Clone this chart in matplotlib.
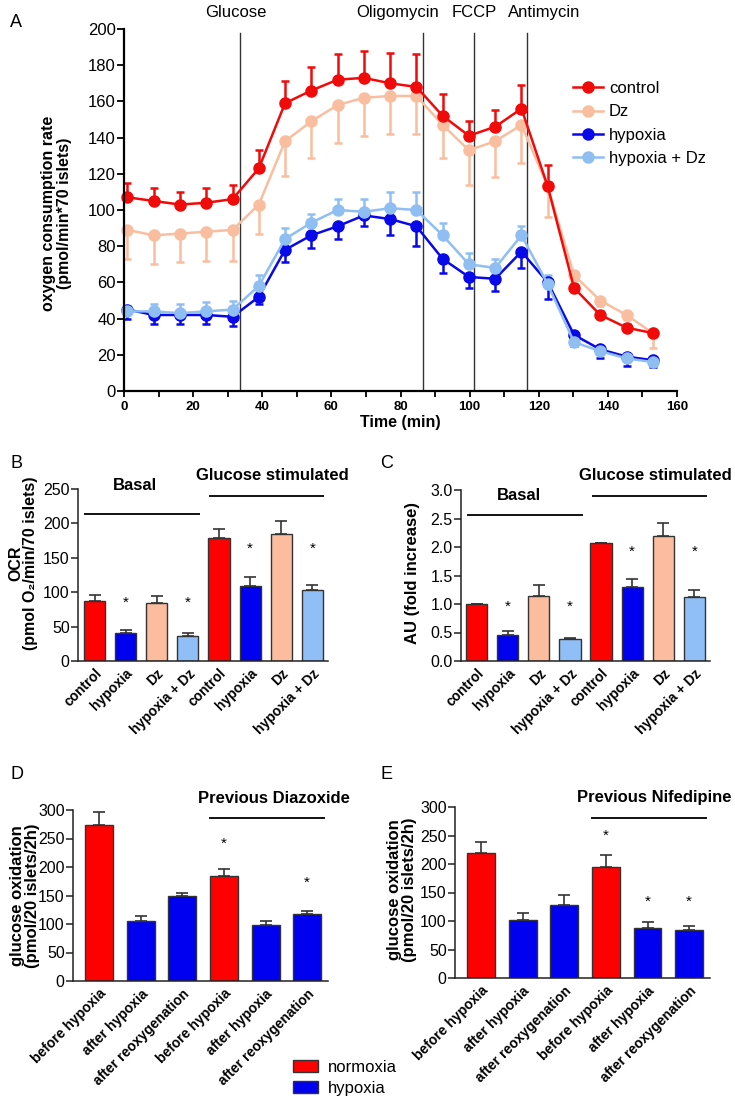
import matplotlib
matplotlib.use("Agg")
import matplotlib.pyplot as plt
from matplotlib.patches import Patch
from matplotlib.lines import Line2D
from matplotlib.ticker import MultipleLocator, FormatStrFormatter
import matplotlib.transforms as mtransforms

plt.rcParams['font.family'] = ['Liberation Sans', 'DejaVu Sans']

# ---------------- data ----------------
times = [1, 8.6, 16.2, 23.8, 31.4, 39, 46.6, 54.2, 61.8, 69.4, 77, 84.6,
         92.2, 99.8, 107.4, 115, 122.6, 130.2, 137.8, 145.4, 153]
control = [107, 105, 103, 104, 106, 123, 159, 166, 172, 173, 170, 168,
           152, 141, 146, 156, 113, 57, 42, 35, 32]
control_err = [8, 7, 7, 8, 8, 10, 12, 13, 14, 15, 17, 18,
               12, 8, 9, 13, 12, 2, 2, 2, 1]
dz = [89, 86, 87, 88, 89, 103, 138, 149, 158, 162, 163, 163,
      147, 133, 138, 147, 113, 64, 50, 42, 32]
dz_err = [16, 16, 16, 16, 17, 16, 19, 20, 21, 21, 21, 21,
          18, 19, 20, 21, 17, 3, 3, 3, 8]
hypoxia = [45, 42, 42, 42, 41, 52, 78, 86, 91, 97, 95, 91,
           73, 63, 62, 77, 60, 31, 23, 19, 17]
hypoxia_err = [5, 5, 5, 5, 5, 4, 7, 7, 7, 6, 9, 11,
               8, 6, 7, 9, 9, 6, 5, 5, 4]
hyp_dz = [44, 44, 43, 44, 45, 58, 84, 93, 100, 99, 101, 100,
          86, 70, 68, 86, 59, 27, 22, 18, 16]
hyp_dz_err = [3, 4, 5, 5, 5, 6, 6, 5, 6, 7, 9, 10,
              7, 6, 5, 5, 5, 3, 3, 2, 2]
injection_names = ['Glucose', 'Oligomycin', 'FCCP', 'Antimycin']
injection_times = [33.6, 86.5, 101.3, 116.6]
injection_label_x = [32.4, 79.3, 101.3, 121.6]

bc_labels = ['control', 'hypoxia', 'Dz', 'hypoxia + Dz',
             'control', 'hypoxia', 'Dz', 'hypoxia + Dz']
b_values = [87, 41, 84, 36, 179, 109, 185, 103]
b_err = [9, 4, 10, 4, 13, 13, 18, 7]
b_star_idx = [1, 3, 5, 7]
b_star_y = [84, 84, 163, 163]
c_values = [1.00, 0.46, 1.14, 0.38, 2.07, 1.29, 2.20, 1.12]
c_err = [0.0, 0.06, 0.20, 0.03, 0.0, 0.15, 0.22, 0.13]
c_star_idx = [1, 3, 5, 7]
c_star_y = [0.95, 0.95, 1.92, 1.92]

de_labels = ['before hypoxia', 'after hypoxia', 'after reoxygenation',
             'before hypoxia', 'after hypoxia', 'after reoxygenation']
de_condition = ['normoxia', 'hypoxia', 'hypoxia', 'normoxia', 'hypoxia', 'hypoxia']
d_values = [273, 106, 149, 184, 99, 118]
d_err = [24, 8, 6, 12, 7, 4]
d_star_idx = [3, 5]
d_star_y = [241, 172]
e_values = [219, 102, 128, 195, 88, 84]
e_err = [19, 12, 18, 20, 10, 8]
e_star_idx = [3, 4, 5]
e_star_y = [249, 133, 133]

# ---------------- style ----------------
RED = '#F00A0A'
PEACH = '#F9BE9F'
BLUE = '#0808E8'
LBLUE = '#8FBEF3'
BAR_RED = '#FF0000'
BAR_BLUE = '#0000F0'
BAR_PEACH = '#FBBD9E'
BAR_LBLUE = '#90BFF7'
cond_color = {'normoxia': BAR_RED, 'hypoxia': BAR_BLUE}
bc_colors = [BAR_RED, BAR_BLUE, BAR_PEACH, BAR_LBLUE] * 2
edge = '#333333'

W, H = 735, 1108
fig = plt.figure(figsize=(W / 100, H / 100), dpi=100)


def ax_px(l, r, t, b):
    return fig.add_axes([l / W, 1 - b / H, (r - l) / W, (b - t) / H])


def style_bar_axes(ax, ymax, ystep):
    for s in ['top', 'right']:
        ax.spines[s].set_visible(False)
    for s in ['left', 'bottom']:
        ax.spines[s].set_linewidth(1.1)
        ax.spines[s].set_color('#222222')
    ax.set_ylim(0, ymax)
    ax.yaxis.set_major_locator(MultipleLocator(ystep))
    ax.tick_params(axis='y', length=5, width=1.1, labelsize=11.5, pad=1,
                   color='#222222')
    ax.tick_params(axis='x', length=0, pad=4)


# ---------------- Panel A ----------------
axA = ax_px(124, 677, 29, 391)
for s in ['top', 'right']:
    axA.spines[s].set_visible(False)
for s in ['left', 'bottom']:
    axA.spines[s].set_linewidth(1.6)
axA.set_xlim(0, 160)
axA.set_ylim(0, 200)
axA.xaxis.set_major_locator(MultipleLocator(20))
axA.xaxis.set_minor_locator(MultipleLocator(10))
axA.yaxis.set_major_locator(MultipleLocator(20))
axA.tick_params(axis='x', which='both', length=4, width=1.3, labelsize=9.5, pad=3)
axA.tick_params(axis='y', length=5, width=1.3, labelsize=12, pad=1)
for lab in axA.get_xticklabels():
    lab.set_fontweight('bold')

zero = [0] * len(times)
series = [
    ('hypoxia', hypoxia, [hypoxia_err, zero], BLUE),
    ('hypoxia + Dz', hyp_dz, [zero, hyp_dz_err], LBLUE),
    ('Dz', dz, [dz_err, zero], PEACH),
    ('control', control, [zero, control_err], RED),
]
for name, vals, err, col in series:
    axA.errorbar(times, vals, yerr=err, color=col, ecolor=col, lw=1.8,
                 marker='o', ms=8, mec=col, mfc=col, elinewidth=1.8,
                 capsize=3, capthick=1.8, label=name, clip_on=False)

trA = mtransforms.blended_transform_factory(axA.transData, axA.transAxes)
for name, t, lx in zip(injection_names, injection_times, injection_label_x):
    axA.plot([t, t], [0, 0.99], transform=trA, color='#333333', lw=1.0, zorder=1)
    axA.text(lx, 1.033, name, transform=trA, ha='center', va='baseline',
             fontsize=12)

axA.set_xlabel('Time (min)', fontsize=11.5, fontweight='bold', labelpad=2)
axA.set_ylabel('oxygen consumption rate\n(pmol/min*70 islets)', fontsize=11.5,
               fontweight='bold', linespacing=1.05)
axA.yaxis.set_label_coords(-0.094, 0.49)

order = ['control', 'Dz', 'hypoxia', 'hypoxia + Dz']
cols = {'control': RED, 'Dz': PEACH, 'hypoxia': BLUE, 'hypoxia + Dz': LBLUE}
handles = [Line2D([], [], color=cols[n], marker='o', ms=8, lw=1.8) for n in order]
axA.legend(handles, order, loc='upper left', bbox_to_anchor=(573 / W, 1 - 81 / H),
           bbox_transform=fig.transFigure, frameon=False, fontsize=12,
           handlelength=1.8, handletextpad=0.35, labelspacing=0.5, borderpad=0,
           borderaxespad=0)
fig.text(10 / W, 1 - 27 / H, 'A', fontsize=13)

# ---------------- Panel B ----------------
axB = ax_px(78, 328, 489, 661)
style_bar_axes(axB, 250, 50)
xb = list(range(len(b_values)))
axB.bar(xb, b_values, width=0.68, color=bc_colors, edgecolor=edge, linewidth=1.0,
        yerr=[[0] * len(b_err), b_err], ecolor=edge,
        error_kw=dict(elinewidth=1.2, capsize=4, capthick=1.2))
axB.set_xlim(-0.53, 7.5)
axB.set_xticks(xb)
axB.set_xticklabels(bc_labels, rotation=45, ha='right', rotation_mode='anchor',
                    fontsize=10, fontweight='bold')
for i, y in zip(b_star_idx, b_star_y):
    axB.text(i, y, '*', ha='center', va='center', fontsize=11)
axB.plot([-0.3, 3.37], [214, 214], color='#111111', lw=1.4, clip_on=False)
axB.text(1.3, 255, 'Basal', ha='center', va='center', fontsize=12, fontweight='bold')
axB.plot([3.7, 7.34], [240, 240], color='#111111', lw=1.4, clip_on=False)
axB.text(5.7, 269, 'Glucose stimulated', ha='center', va='center', fontsize=12,
         fontweight='bold')
axB.set_ylabel('OCR\n(pmol O\u2082/min/70 islets)', fontsize=11.5, fontweight='bold',
               linespacing=0.95)
axB.yaxis.set_label_coords(-0.16, 0.57)
fig.text(10 / W, 1 - 468 / H, 'B', fontsize=13)

# ---------------- Panel C ----------------
axC = ax_px(461, 710, 490, 661)
style_bar_axes(axC, 3.0, 0.5)
axC.yaxis.set_major_formatter(FormatStrFormatter('%.1f'))
axC.bar(xb, c_values, width=0.68, color=bc_colors, edgecolor=edge, linewidth=1.0,
        yerr=[[0] * len(c_err), c_err], ecolor=edge,
        error_kw=dict(elinewidth=1.2, capsize=4, capthick=1.2))
axC.set_xlim(-0.5, 7.5)
axC.set_xticks(xb)
axC.set_xticklabels(bc_labels, rotation=45, ha='right', rotation_mode='anchor',
                    fontsize=10, fontweight='bold')
for i, y in zip(c_star_idx, c_star_y):
    axC.text(i, y, '*', ha='center', va='center', fontsize=11)
axC.plot([-0.26, 3.4], [2.57, 2.57], color='#111111', lw=1.4, clip_on=False)
axC.text(1.35, 2.91, 'Basal', ha='center', va='center', fontsize=12, fontweight='bold')
axC.plot([3.74, 7.38], [2.9, 2.9], color='#111111', lw=1.4, clip_on=False)
axC.text(5.76, 3.25, 'Glucose stimulated', ha='center', va='center', fontsize=12,
         fontweight='bold')
axC.set_ylabel('AU (fold increase)', fontsize=12, fontweight='bold')
axC.yaxis.set_label_coords(-0.165, 0.515)
fig.text(380 / W, 1 - 468 / H, 'C', fontsize=13)

# ---------------- Panel D ----------------
xd = list(range(len(d_values)))
de_colors = [cond_color[c] for c in de_condition]

axD = ax_px(73, 328, 810, 981)
style_bar_axes(axD, 300, 50)
axD.bar(xd, d_values, width=0.67, color=de_colors, edgecolor=edge, linewidth=1.0,
        yerr=[[0] * len(d_err), d_err], ecolor=edge,
        error_kw=dict(elinewidth=1.2, capsize=4, capthick=1.2))
axD.set_xlim(-0.63, 5.5)
axD.set_xticks(xd)
axD.set_xticklabels(de_labels, rotation=45, ha='right', rotation_mode='anchor',
                    fontsize=10, fontweight='bold')
for i, y in zip(d_star_idx, d_star_y):
    axD.text(i, y, '*', ha='center', va='center', fontsize=11)
axD.plot([2.67, 5.4], [286, 286], color='#111111', lw=1.4, clip_on=False)
axD.text(4.2, 320, 'Previous Diazoxide', ha='center', va='center', fontsize=12,
         fontweight='bold')
axD.set_ylabel('glucose oxidation\n(pmol/20 islets/2h)', fontsize=12,
               fontweight='bold', linespacing=1.0)
axD.yaxis.set_label_coords(-0.13, 0.5)
fig.text(10 / W, 1 - 779 / H, 'D', fontsize=13)

# ---------------- Panel E ----------------
axE = ax_px(455, 710, 807, 978)
style_bar_axes(axE, 300, 50)
axE.bar(xd, e_values, width=0.67, color=de_colors, edgecolor=edge, linewidth=1.0,
        yerr=[[0] * len(e_err), e_err], ecolor=edge,
        error_kw=dict(elinewidth=1.2, capsize=4, capthick=1.2))
axE.set_xlim(-0.625, 5.5)
axE.set_xticks(xd)
axE.set_xticklabels(de_labels, rotation=45, ha='right', rotation_mode='anchor',
                    fontsize=10, fontweight='bold')
for i, y in zip(e_star_idx, e_star_y):
    axE.text(i, y, '*', ha='center', va='center', fontsize=11)
axE.plot([2.67, 5.4], [281, 281], color='#111111', lw=1.4, clip_on=False)
axE.text(4.17, 317, 'Previous Nifedipine', ha='center', va='center', fontsize=12,
         fontweight='bold')
axE.set_ylabel('glucose oxidation\n(pmol/20 islets/2h)', fontsize=12,
               fontweight='bold', linespacing=1.0)
axE.yaxis.set_label_coords(-0.149, 0.515)
fig.text(380 / W, 1 - 779 / H, 'E', fontsize=13)

# legend for D/E
leg_handles = [Patch(facecolor=cond_color[c], edgecolor=edge, linewidth=1.0)
               for c in ['normoxia', 'hypoxia']]
fig.legend(leg_handles, ['normoxia', 'hypoxia'], loc='upper left',
           bbox_to_anchor=(293 / W, 1 - 1060 / H), frameon=False, fontsize=12,
           handlelength=1.5, handleheight=0.75, handletextpad=0.6,
           labelspacing=0.35, borderpad=0, borderaxespad=0)

fig.savefig('out.png', dpi=100)
